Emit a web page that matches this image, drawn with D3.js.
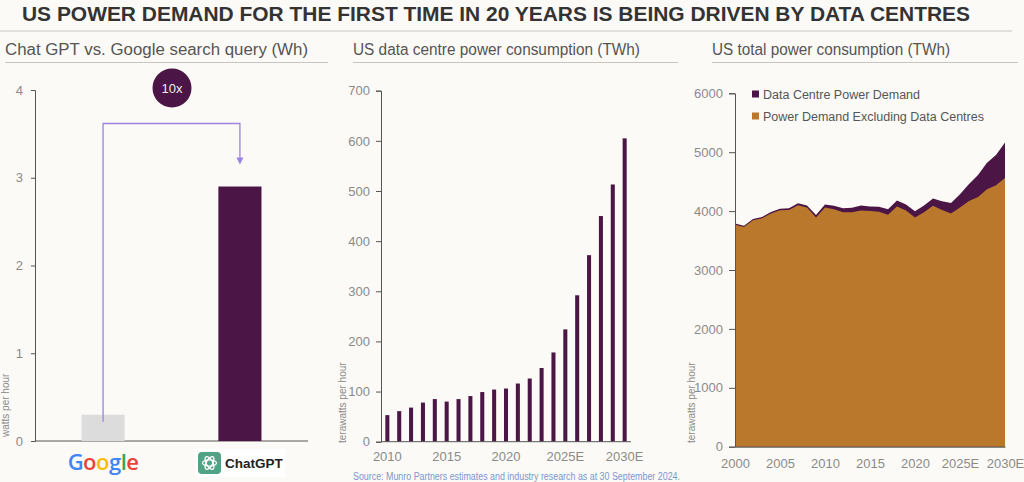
<!DOCTYPE html>
<html>
<head>
<meta charset="utf-8">
<script src="https://cdn.jsdelivr.net/npm/d3@7"></script>
<style>
  body { margin: 0; background: #fcfaf6; }
  svg { display: block; }
  .tick text { fill: #8a8a8a; font-family: "Liberation Sans", Arial, sans-serif; font-size: 13px; }
  .domain, .tick line { stroke: #555; }
</style>
</head>
<body>
<svg id="chart" width="1024" height="482"></svg>
<script>
// panel 1: energy per query
const queryNames = ["Google", "ChatGPT"];
const queryWh = [0.3, 2.9];
const queryTicks = [0, 1, 2, 3, 4];

// panel 2: US data centre consumption
const dcYears = d3.range(2010, 2031).map(String);
const dcTwh = [53, 61, 68, 78, 85, 80, 85, 91, 99, 104, 106, 116, 126, 147, 178, 224, 292, 372, 450, 513, 605];
const dcLabels = { "2010": "2010", "2015": "2015", "2020": "2020", "2025": "2025E", "2030": "2030E" };

// panel 3: US total consumption
const totYears = d3.range(2000, 2031);
const exDcTwh = [3770, 3730, 3845, 3877, 3960, 4013, 4020, 4100, 4060, 3890, 4060, 4030, 3980, 3980, 4010, 4000, 3990, 3940, 4080, 4010, 3890, 3980, 4090, 4020, 3960, 4060, 4170, 4240, 4370, 4440, 4560];
const dcPartTwh = [20, 20, 20, 22, 25, 28, 30, 35, 35, 45, 53, 61, 68, 78, 85, 80, 85, 91, 99, 104, 106, 116, 126, 147, 178, 224, 292, 372, 450, 513, 605];
const totTicks = [2000, 2005, 2010, 2015, 2020, 2025, 2030];
const totTickLabels = ["2000", "2005", "2010", "2015", "2020", "2025E", "2030E"];

const purple = "#4b1545";
const orange = "#b9782c";
const sans = '"Liberation Sans", Arial, sans-serif';

const svg = d3.select("#chart");

// header
svg.append("text")
    .attr("x", 496).attr("y", 21)
    .attr("text-anchor", "middle")
    .attr("textLength", 948).attr("lengthAdjust", "spacingAndGlyphs")
    .style("font-family", sans).style("font-weight", "bold")
    .style("font-size", "20px").style("fill", "#333")
    .text("US POWER DEMAND FOR THE FIRST TIME IN 20 YEARS IS BEING DRIVEN BY DATA CENTRES");

svg.append("line").attr("x1", 0).attr("x2", 1012).attr("y1", 31).attr("y2", 31)
    .style("stroke", "#c9c5c0").style("stroke-width", 1.2);

const subs = [
    { t: "Chat GPT vs. Google search query (Wh)", x: 5, w: 303, x2: 328 },
    { t: "US data centre power consumption (TWh)", x: 353, w: 287, x2: 678 },
    { t: "US total power consumption (TWh)", x: 712, w: 238, x2: 1018 }
];
subs.forEach(s => {
    svg.append("text").attr("x", s.x).attr("y", 55)
        .attr("textLength", s.w).attr("lengthAdjust", "spacingAndGlyphs")
        .style("font-family", sans).style("font-size", "16px").style("fill", "#555")
        .text(s.t);
    svg.append("line").attr("x1", s.x).attr("x2", s.x2).attr("y1", 62.5).attr("y2", 62.5)
        .style("stroke", "#c9c5c0").style("stroke-width", 1);
});

function yLabel(x, y, txt) {
    svg.append("text")
        .attr("transform", `translate(${x},${y}) rotate(-90)`)
        .style("font-family", sans)
        .style("font-size", "10px").style("fill", "#8a8a8a")
        .text(txt);
}

// ---------- panel 1 ----------
const x1 = d3.scaleBand().domain(queryNames).range([35, 308]).paddingInner(0.685).paddingOuter(0.34);
const y1 = d3.scaleLinear().domain([0, 4]).range([441, 90]);

svg.append("g").attr("transform", "translate(35,0)")
    .call(d3.axisLeft(y1).tickValues(queryTicks).tickFormat(d3.format("d")).tickSize(4).tickPadding(8));
svg.append("line").attr("x1", 35).attr("x2", 308).attr("y1", 441).attr("y2", 441)
    .style("stroke", "#555");

svg.selectAll(".qbar").data(queryNames).enter().append("rect")
    .attr("x", d => x1(d))
    .attr("y", (d, i) => y1(queryWh[i]))
    .attr("width", x1.bandwidth())
    .attr("height", (d, i) => y1(0) - y1(queryWh[i]))
    .attr("fill", (d, i) => i === 0 ? "#dcdcdc" : purple);

yLabel(9, 437, "watts per hour");

// comparison arrow
const gx = x1("Google") + x1.bandwidth() / 2;
const cx = x1("ChatGPT") + x1.bandwidth() / 2;
svg.append("path")
    .attr("d", `M${gx},${y1(queryWh[0]) + 7} V123.5 H${cx} V${y1(queryWh[1]) - 29}`)
    .attr("fill", "none").attr("stroke", "#9b82e0").attr("stroke-width", 1.3);
svg.append("path")
    .attr("d", `M${cx - 3.5},${y1(queryWh[1]) - 29} L${cx + 3.5},${y1(queryWh[1]) - 29} L${cx},${y1(queryWh[1]) - 22} Z`)
    .attr("fill", "#9b82e0");

svg.append("circle").attr("cx", 172).attr("cy", 88).attr("r", 19.5).attr("fill", purple);
svg.append("text").attr("x", 172).attr("y", 93).attr("text-anchor", "middle")
    .style("font-family", sans).style("font-size", "13px")
    .style("fill", "#eee").text("10x");

// logos
const gCols = ["#4285F4", "#EA4335", "#FBBC05", "#4285F4", "#34A853", "#EA4335"];
const gText = svg.append("text").attr("x", gx).attr("y", 470).attr("text-anchor", "middle")
    .style("font-family", '"Open Sans", Roboto, sans-serif').style("font-size", "22px")
    .style("font-weight", "600").style("letter-spacing", "-0.5px");
"Google".split("").forEach((c, i) => gText.append("tspan").attr("fill", gCols[i]).text(c));

svg.append("rect").attr("x", 195).attr("y", 449).attr("width", 90).attr("height", 28).attr("fill", "#fff");
svg.append("rect").attr("x", 198).attr("y", 452).attr("width", 23).attr("height", 22).attr("rx", 4)
    .attr("fill", "#52a386");
const knot = svg.append("g").attr("transform", "translate(209.5,463)");
[0, 60, 120].forEach(a => {
    knot.append("ellipse").attr("rx", 7).attr("ry", 3.2)
        .attr("transform", `rotate(${a})`)
        .attr("fill", "none").attr("stroke", "#fff").attr("stroke-width", 1.3);
});
svg.append("text").attr("x", 225).attr("y", 468)
    .style("font-family", sans).style("font-size", "13.5px")
    .style("font-weight", "bold").style("fill", "#222").text("ChatGPT");

// ---------- panel 2 ----------
const x2 = d3.scaleBand().domain(dcYears).range([381, 631]).paddingInner(0.66).paddingOuter(0.365);
const y2 = d3.scaleLinear().domain([0, 700]).range([441.7, 90.7]);

svg.append("g").attr("transform", "translate(381,0)")
    .call(d3.axisLeft(y2).ticks(7).tickSize(5).tickPadding(6));

svg.selectAll(".dbar").data(dcYears).enter().append("rect")
    .attr("x", d => x2(d))
    .attr("y", (d, i) => y2(dcTwh[i]))
    .attr("width", x2.bandwidth())
    .attr("height", (d, i) => y2(0) - y2(dcTwh[i]))
    .attr("fill", purple);

const ax2 = svg.append("g").attr("transform", "translate(0,441.7)")
    .call(d3.axisBottom(x2).tickValues(Object.keys(dcLabels)).tickFormat(d => dcLabels[d])
        .tickSize(0).tickPadding(10));
ax2.select(".domain").attr("d", "M381,0H631");

yLabel(346, 443, "terawatts per hour");

svg.append("text").attr("x", 353).attr("y", 480)
    .attr("textLength", 327).attr("lengthAdjust", "spacingAndGlyphs")
    .style("font-family", sans).style("font-size", "10px").style("fill", "#7b96cf")
    .text("Source: Munro Partners estimates and industry research as at 30 September 2024.");

// ---------- panel 3 ----------
const x3 = d3.scaleLinear().domain([2000, 2030]).range([735, 1005]);
const y3 = d3.scaleLinear().domain([0, 6000]).range([446.7, 93.3]);

const rows = totYears.map((yr, i) => ({ yr, ex: exDcTwh[i], dc: dcPartTwh[i] }));

svg.append("path").datum(rows)
    .attr("d", d3.area().x(d => x3(d.yr)).y0(y3(0)).y1(d => y3(d.ex + d.dc)))
    .attr("fill", purple);
svg.append("path").datum(rows)
    .attr("d", d3.area().x(d => x3(d.yr)).y0(y3(0)).y1(d => y3(d.ex)))
    .attr("fill", orange);

svg.append("g").attr("transform", "translate(735,0)")
    .call(d3.axisLeft(y3).ticks(6).tickSize(6).tickPadding(6).tickFormat(d3.format("d")));

svg.append("g").attr("transform", "translate(0,446.7)")
    .call(d3.axisBottom(x3).tickValues(totTicks)
        .tickFormat((d, i) => totTickLabels[i]).tickSize(0).tickPadding(12));

yLabel(695, 443, "terawatts per hour");

const legend = [
    { name: "Data Centre Power Demand", color: purple },
    { name: "Power Demand Excluding Data Centres", color: orange }
];
legend.forEach((item, i) => {
    svg.append("rect").attr("x", 752).attr("y", 90.5 + i * 22).attr("width", 7).attr("height", 7)
        .attr("fill", item.color);
    svg.append("text").attr("x", 763).attr("y", 98.5 + i * 22)
        .style("font-family", sans).style("font-size", "12.5px")
        .style("fill", "#555").text(item.name);
});
</script>
</body>
</html>
